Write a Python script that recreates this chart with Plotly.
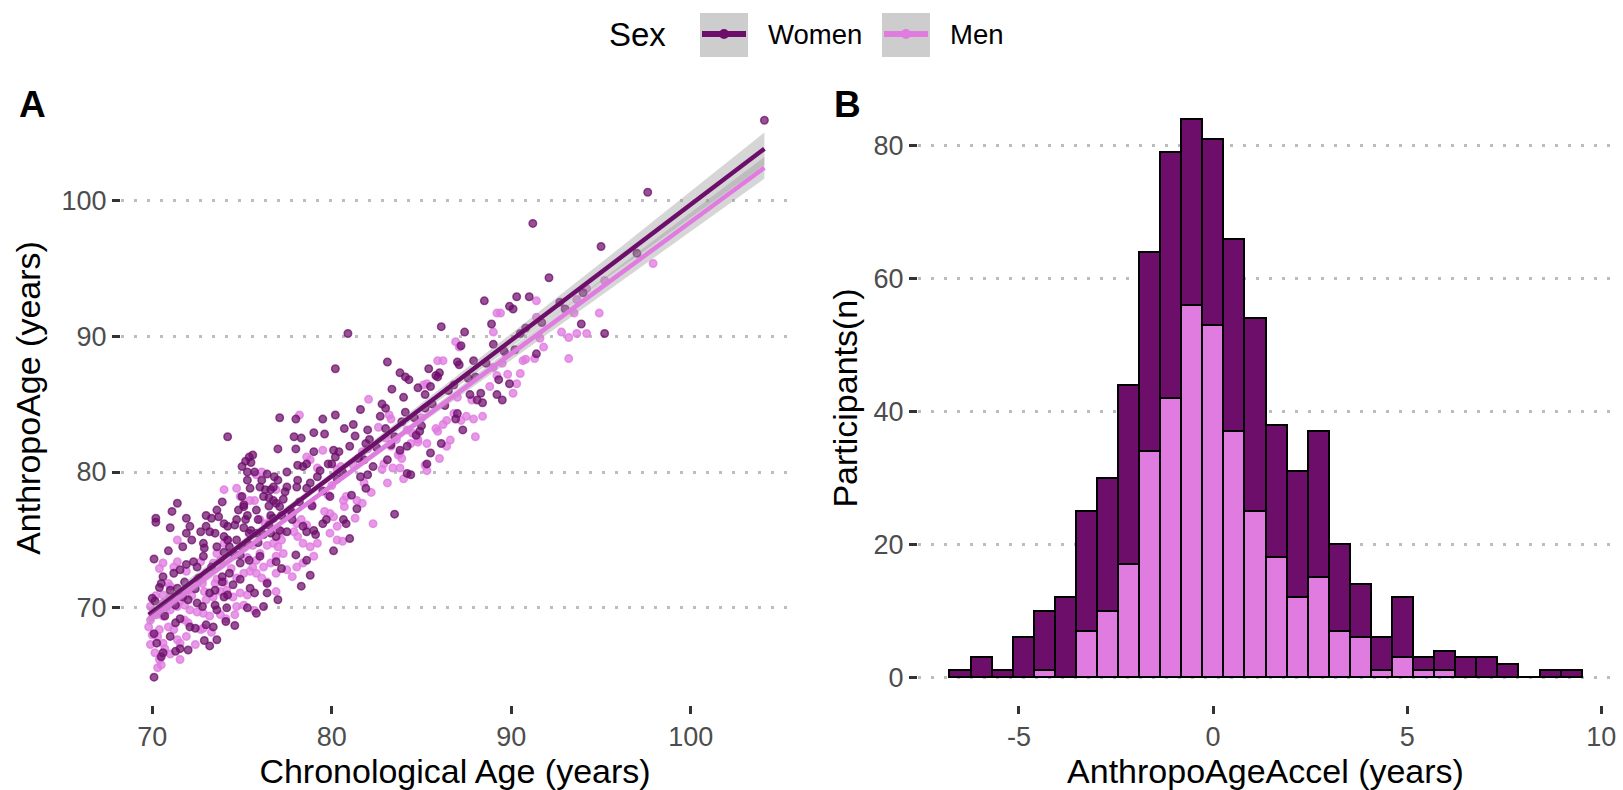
import plotly.graph_objects as go

W, H = 1623, 790
FONT = "Liberation Sans, Arial, Helvetica, sans-serif"
WOMEN_COL = "#6E0E6B"
MEN_COL = "#E07BE0"
WOMEN_PT = "rgba(110,14,107,0.72)"
MEN_PT = "rgba(224,123,224,0.78)"
TICK_COL = "#4D4D4D"

# ---------------- Panel A data (Chronological Age, AnthropoAge) ----------------
women_points = [
    (83.5, 76.9), (70.2, 76.6), (70.2, 76.3), (71.0, 75.9),
    (104.1, 105.9), (97.6, 100.6), (91.2, 98.3), (95.0, 96.6), (92.1, 94.3), (88.5, 92.6),
    (90.3, 92.9), (91.0, 92.9), (89.9, 92.2), (90.1, 92.0), (88.9, 90.9), (93.9, 90.9),
    (95.2, 90.2), (91.4, 88.7), (90.2, 89.0), (89.3, 86.8), (89.9, 86.5), (89.2, 85.7),
    (89.5, 85.3), (88.3, 85.8), (88.4, 85.1), (93.0, 92.0), (97.0, 96.1), (87.2, 89.3),
    (80.9, 90.2), (80.2, 87.6), (83.1, 88.1), (83.8, 87.3), (84.1, 87.0), (84.3, 86.8),
    (85.4, 87.6), (85.8, 87.1), (86.0, 87.3), (85.9, 87.0), (87.0, 88.1), (87.1, 87.9),
    (87.9, 88.2), (85.5, 86.3), (83.35, 86.1), (84.0, 85.5), (85.2, 85.7), (88.1, 85.3),
    (83.0, 84.7), (84.1, 84.4), (85.2, 84.7), (87.0, 84.3), (86.9, 83.9), (87.3, 83.1),
    (86.1, 82.1), (82.0, 83.1), (82.1, 82.4), (83.0, 83.2), (83.8, 81.6), (84.2, 81.9),
    (84.7, 82.7), (84.9, 83.0), (85.5, 81.4), (82.3, 80.4), (83.1, 80.9), (84.2, 79.9),
    (84.4, 79.8), (85.3, 80.6), (86.1, 90.7), (87.4, 90.3),
    (74.2, 82.6), (77.1, 84.0), (78.0, 83.9), (79.5, 83.9), (80.2, 84.2), (79.0, 82.9),
    (79.6, 82.8), (78.3, 82.5), (77.0, 81.7), (78.0, 81.7), (81.2, 83.5), (81.3, 82.65),
    (81.9, 82.1), (75.4, 81.1), (75.6, 81.25), (75.2, 80.8), (75.5, 80.7), (75.0, 80.4),
    (75.3, 80.0), (75.7, 80.0), (76.4, 79.85), (76.8, 79.65), (77.5, 80.0), (78.1, 80.5),
    (78.4, 80.4), (78.6, 80.6), (79.0, 81.5), (80.1, 81.6), (80.4, 81.5), (81.0, 81.9),
    (75.3, 79.4), (75.45, 78.8), (75.0, 78.2), (75.1, 77.45), (76.0, 78.9), (76.3, 78.7),
    (76.6, 78.7), (76.75, 78.9), (76.2, 78.2), (76.5, 78.1), (76.75, 77.9), (76.9, 77.7),
    (77.0, 79.4), (77.5, 78.9), (77.4, 78.55), (78.1, 79.4), (78.05, 78.9), (78.6, 78.8),
    (78.8, 79.2), (79.2, 79.65), (79.35, 80.1), (77.7, 77.2), (77.8, 76.95), (77.1, 77.45),
    (77.2, 76.8), (76.75, 76.6), (76.6, 76.8), (75.1, 77.6), (75.8, 77.2), (75.9, 76.5),
    (75.3, 76.8), (75.2, 76.5), (73.6, 77.2), (73.7, 76.7), (73.0, 76.8), (73.3, 76.6),
    (71.4, 77.7), (71.1, 77.1), (71.9, 76.6), (72.1, 76.0), (73.0, 76.0), (73.2, 75.6),
    (73.5, 75.5), (74.0, 76.2), (74.2, 76.0), (74.6, 76.1), (74.7, 76.5), (75.1, 75.9),
    (75.4, 75.5), (75.5, 75.7), (74.0, 75.25), (74.2, 75.0), (71.9, 75.5), (72.2, 75.0),
    (72.85, 74.75), (72.9, 74.4), (73.6, 74.5), (74.0, 74.1), (74.3, 74.5), (74.7, 75.0),
    (75.0, 74.5), (75.3, 74.75), (75.8, 75.5), (76.2, 75.4), (76.6, 75.5), (76.9, 75.25),
    (77.1, 75.7), (77.5, 75.6), (78.4, 76.0), (78.6, 75.6), (79.0, 75.7), (79.1, 75.4),
    (79.5, 76.2), (79.7, 76.5), (81.0, 75.1), (81.1, 78.3), (80.65, 76.5), (80.8, 76.2),
    (80.0, 80.6), (80.2, 81.1), (81.8, 80.9), (81.6, 79.65), (82.0, 79.8),
    (70.1, 64.9), (70.6, 66.7), (70.5, 66.4), (71.3, 66.8), (71.55, 67.0), (73.2, 67.2),
    (73.6, 67.65), (70.25, 67.4), (70.1, 68.1), (71.0, 67.9), (72.1, 68.6), (72.4, 68.5),
    (73.0, 68.75), (73.4, 68.6), (74.1, 69.0), (71.3, 68.9), (71.55, 69.2), (70.0, 70.7),
    (70.15, 70.5), (70.5, 71.8), (70.6, 72.3), (71.0, 71.3), (71.4, 71.45), (71.7, 70.8),
    (72.0, 70.6), (72.5, 70.35), (72.8, 70.1), (73.5, 70.2), (73.6, 69.85), (74.15, 70.0),
    (73.2, 71.1), (73.5, 71.3), (74.0, 70.8), (74.2, 70.95), (75.3, 70.0), (74.5, 71.7),
    (74.9, 72.1), (75.45, 71.45), (75.7, 71.1), (76.4, 71.8), (76.4, 71.1), (76.9, 73.4),
    (77.2, 72.9), (78.0, 73.9), (78.3, 71.6), (78.6, 73.5), (71.2, 72.55), (71.55, 72.8),
    (71.9, 73.2), (72.3, 73.4), (72.5, 73.0), (72.85, 73.8), (73.9, 72.3), (74.3, 72.55),
    (74.9, 73.3), (75.4, 73.5), (76.0, 73.8), (76.2, 70.1),
    # additional points along the dense band
    (76.5, 77.5), (77.3, 78.0), (78.2, 77.8), (79.5, 78.6), (80.3, 79.5), (81.5, 81.0),
    (82.5, 81.8), (83.5, 82.6), (84.6, 84.0), (85.6, 85.0), (86.5, 86.0), (87.6, 86.9),
    (88.6, 88.0), (89.6, 88.9), (90.5, 90.2), (91.7, 91.0), (92.7, 92.5), (94.0, 93.2),
    (82.8, 85.0), (81.6, 84.6), (80.7, 83.2), (83.9, 83.7), (86.3, 84.9), (88.0, 87.0),
    (89.0, 89.4), (90.8, 90.6), (71.8, 71.9), (72.6, 72.2), (73.3, 73.0), (74.6, 73.9),
    (75.9, 74.8), (76.5, 76.1), (77.8, 76.5), (78.9, 77.5), (79.9, 78.2), (81.9, 78.8),
    (70.7, 69.4), (71.3, 70.2), (72.4, 71.4), (73.9, 71.9), (74.9, 73.9), (70.4, 71.5),
    (70.9, 74.2), (71.7, 74.5), (72.7, 75.6), (73.9, 77.8), (74.8, 77.2), (76.1, 79.4),
    (77.9, 82.6), (79.8, 80.6), (82.7, 84.1), (84.8, 86.2), (86.8, 86.4), (80.6, 80.0),
    (83.3, 82.0), (85.0, 83.4), (87.7, 85.7), (70.1, 73.6), (72.0, 66.9), (72.9, 67.6),
    (74.6, 68.7), (75.8, 69.6), (77.0, 70.6), (78.8, 72.4), (80.1, 74.2), (81.4, 77.3),
]

men_points = [
    (97.9, 95.35), (93.65, 92.7), (94.2, 93.5), (95.2, 94.1), (89.2, 91.7), (89.4, 91.7),
    (91.4, 92.6), (93.5, 91.7), (94.9, 91.7), (89.0, 90.3), (93.2, 89.9), (93.65, 90.2),
    (94.2, 90.2), (93.2, 88.35), (91.6, 89.85), (91.3, 88.35), (90.65, 88.2), (90.5, 87.25),
    (90.1, 85.8), (88.4, 84.1), (89.2, 87.1), (89.7, 88.7), (89.0, 87.7), (91.4, 91.4),
    (90.3, 86.5),
    (82.05, 85.35), (85.9, 88.2), (86.2, 88.2), (85.1, 86.4), (85.3, 86.5), (86.9, 89.6),
    (87.1, 89.2), (86.4, 83.8), (86.2, 83.5), (85.9, 83.0), (83.2, 84.2), (83.3, 83.9),
    (82.6, 83.3), (84.8, 82.2), (85.3, 82.1), (84.4, 82.1), (87.2, 83.8), (87.5, 84.1),
    (87.9, 83.9), (83.7, 81.25), (83.9, 81.0), (82.9, 80.6), (83.4, 80.3), (83.8, 80.3),
    (85.2, 80.5), (85.3, 80.1), (84.2, 83.1), (84.5, 82.85), (83.3, 81.9), (83.6, 82.4),
    (86.6, 82.35), (86.4, 81.9), (78.2, 84.2), (81.7, 81.5), (82.0, 81.7),
    (83.1, 79.2), (81.3, 76.6), (82.3, 76.2), (70.3, 65.6),
    (74.0, 78.7), (76.9, 78.7), (78.6, 81.1), (78.8, 80.9), (79.5, 81.6), (79.2, 80.3),
    (80.3, 80.2), (80.5, 80.4), (80.65, 77.9), (80.7, 77.45), (81.4, 77.9), (81.7, 77.7),
    (79.9, 76.95), (80.1, 76.7), (80.3, 76.0), (78.05, 76.2), (78.3, 76.5), (77.9, 75.6),
    (78.1, 75.25), (75.45, 77.9), (75.7, 77.9), (75.8, 79.8), (76.1, 80.0), (74.7, 78.8),
    (74.9, 78.2), (71.4, 75.0), (74.0, 74.75), (74.2, 75.0), (76.75, 74.75), (77.0, 74.5),
    (77.2, 75.0), (78.4, 74.75), (78.8, 74.5), (79.2, 74.75), (79.9, 75.5), (80.3, 75.0),
    (76.0, 76.5), (76.3, 76.2), (76.6, 76.6),
    (70.06, 69.7), (69.9, 69.1), (69.8, 68.6), (70.25, 69.5), (70.6, 69.4), (70.4, 68.4),
    (70.3, 67.9), (70.6, 67.4), (70.15, 66.7), (70.5, 65.8), (71.4, 67.65), (71.55, 67.4),
    (71.55, 66.2), (70.9, 68.6), (71.2, 68.4), (71.8, 69.1), (72.0, 68.9), (72.7, 68.4),
    (72.85, 68.5), (71.0, 69.85), (71.4, 70.1), (70.6, 70.95), (71.0, 70.8), (71.55, 70.5),
    (71.8, 70.2), (72.1, 69.85), (72.5, 69.7), (72.85, 69.6), (73.2, 69.4), (73.8, 69.5),
    (74.1, 69.2), (73.0, 70.6), (73.4, 70.8), (73.8, 71.2), (74.15, 71.3), (74.5, 70.8),
    (74.9, 71.1), (75.3, 70.95), (74.7, 72.2), (75.1, 72.55), (75.45, 72.7), (75.8, 72.55),
    (76.2, 73.0), (76.6, 73.3), (76.9, 73.8), (77.3, 74.0), (71.4, 73.4), (71.2, 73.0),
    (70.6, 70.35), (70.8, 70.1), (75.6, 73.0), (75.8, 73.5), (76.1, 72.2), (76.4, 71.9),
    (76.9, 72.55), (77.5, 72.8), (78.05, 73.0), (78.4, 73.3), (74.7, 70.1), (75.1, 70.2),
    (70.6, 73.3), (70.4, 72.9), (73.4, 73.3), (73.8, 73.5), (73.6, 72.1), (74.0, 71.9),
    (72.5, 72.1), (72.8, 71.8), (73.0, 72.55), (69.9, 70.1),
    # additional points along the dense band
    (76.0, 74.0), (77.2, 75.6), (78.6, 76.1), (79.6, 77.1), (80.8, 78.2), (81.8, 79.2),
    (82.8, 80.2), (83.8, 81.4), (84.8, 82.4), (85.8, 83.2), (86.8, 84.3), (87.8, 85.3),
    (88.8, 86.3), (89.8, 87.2), (90.8, 88.3), (91.8, 89.2), (92.8, 90.3), (82.2, 78.5),
    (84.0, 79.5), (86.0, 81.0), (88.0, 82.6), (80.0, 79.0), (81.2, 80.5), (83.0, 82.5),
    (85.0, 84.0), (87.0, 85.5), (89.5, 88.0), (71.0, 71.6), (72.2, 70.9), (72.9, 71.2),
    (73.5, 71.8), (74.4, 72.9), (75.3, 73.7), (76.4, 74.6), (77.6, 76.8), (78.9, 77.6),
    (79.8, 78.3), (70.2, 70.9), (70.9, 71.8), (71.9, 72.7), (72.7, 73.4), (73.6, 74.0),
    (74.4, 74.1), (75.6, 74.6), (70.0, 68.0), (70.7, 67.0), (71.0, 66.6), (71.9, 67.9),
    (72.4, 67.3), (73.3, 68.2), (74.6, 69.5), (75.7, 69.8), (76.9, 71.2), (77.8, 72.3),
    (79.0, 73.8), (80.6, 74.9), (69.9, 67.3), (70.4, 66.2),
]

# linear fits (geom_smooth, method = "lm") with 95% CI
fit_age = [69.8, 75, 80, 85, 90, 95, 100, 104.1]
women_fit = [69.5, 74.7, 79.7, 84.7, 89.7, 94.7, 99.7, 103.8]
women_hi = [69.95, 75.0, 79.95, 85.05, 90.2, 95.4, 100.65, 105.0]
women_lo = [69.05, 74.4, 79.45, 84.35, 89.2, 94.0, 98.75, 102.6]
men_fit = [69.1, 74.15, 79.0, 83.85, 88.7, 93.55, 98.4, 102.4]
men_hi = [69.45, 74.4, 79.2, 84.15, 89.15, 94.15, 99.15, 103.2]
men_lo = [68.75, 73.9, 78.8, 83.6, 88.25, 93.0, 97.7, 101.6]

# ---------------- Panel B data (histogram of AnthropoAgeAccel, 30 bins) ----------------
bin_centers = [-6.518, -5.975, -5.433, -4.890, -4.347, -3.805, -3.262, -2.719, -2.176, -1.634,
               -1.091, -0.548, -0.006, 0.537, 1.080, 1.623, 2.165, 2.708, 3.251, 3.793,
               4.336, 4.879, 5.422, 5.964, 6.507, 7.050, 7.592, 8.135, 8.678, 9.221]
men_counts = [0, 0, 0, 0, 1, 0, 7, 10, 17, 34, 42, 56, 53, 37, 25, 18, 12, 15, 7, 6,
              1, 3, 1, 1, 0, 0, 0, 0, 0, 0]
women_counts = [1, 3, 1, 6, 9, 12, 18, 20, 27, 30, 37, 28, 28, 29, 29, 20, 19, 22, 13, 8,
                5, 9, 2, 3, 3, 3, 2, 0, 1, 1]

ticks_a = [70, 80, 90, 100]
ticks_b_x = [-5, 0, 5, 10]
ticks_b_x_text = ["-5", "0", "5", "10"]
ticks_b_y = [0, 20, 40, 60, 80]


def px_x(v):
    return v / W


def px_y(v):
    return 1 - v / H


fig = go.Figure()

# points: men first, women on top
fig.add_trace(go.Scatter(
    x=[p[0] for p in men_points], y=[p[1] for p in men_points], mode="markers",
    marker=dict(size=7.5, color=MEN_PT, line=dict(color=MEN_PT, width=1.5)),
    name="Men", showlegend=False, xaxis="x", yaxis="y"))
fig.add_trace(go.Scatter(
    x=[p[0] for p in women_points], y=[p[1] for p in women_points], mode="markers",
    marker=dict(size=7.5, color=WOMEN_PT, line=dict(color=WOMEN_PT, width=1.5)),
    name="Women", showlegend=False, xaxis="x", yaxis="y"))

# ribbons and fit lines
for hi, lo, mid, col in [(women_hi, women_lo, women_fit, WOMEN_COL),
                         (men_hi, men_lo, men_fit, MEN_COL)]:
    fig.add_trace(go.Scatter(
        x=fit_age + fit_age[::-1], y=hi + lo[::-1], fill="toself",
        fillcolor="rgba(153,153,153,0.4)", line=dict(width=0), mode="lines",
        hoverinfo="skip", showlegend=False, xaxis="x", yaxis="y"))
    fig.add_trace(go.Scatter(
        x=fit_age, y=mid, mode="lines", line=dict(color=col, width=4.5),
        showlegend=False, xaxis="x", yaxis="y"))

# stacked histogram
fig.add_trace(go.Bar(
    x=bin_centers, y=men_counts, name="Men", marker=dict(color=MEN_COL, line=dict(color="black", width=2)),
    showlegend=False, xaxis="x2", yaxis="y2"))
fig.add_trace(go.Bar(
    x=bin_centers, y=women_counts, name="Women", marker=dict(color=WOMEN_COL, line=dict(color="black", width=2)),
    showlegend=False, xaxis="x2", yaxis="y2"))

ydom = [px_y(705), px_y(91)]
axis_common = dict(
    showline=False, zeroline=False, ticks="outside", ticklen=8, tickwidth=2.5,
    tickcolor="#333333", tickfont=dict(size=27, color=TICK_COL, family=FONT),
    automargin=False,
)
grid_y = dict(showgrid=True, gridcolor="#BDBDBD", gridwidth=2.5, griddash="3px,10px")
TITLE_SIZE = 34

fig.update_layout(
    width=W, height=H, margin=dict(l=0, r=0, t=0, b=0), autosize=False,
    template="none", paper_bgcolor="white", plot_bgcolor="white",
    font=dict(family=FONT, color="black"),
    barmode="stack", bargap=0, showlegend=False,
    xaxis=dict(domain=[px_x(121), px_x(789)], range=[68.26, 105.47], anchor="y",
               tickmode="array", tickvals=ticks_a, showgrid=False,
               title=dict(text="Chronological Age (years)", font=dict(size=TITLE_SIZE, color="black"), standoff=8),
               **axis_common),
    yaxis=dict(domain=ydom, range=[62.85, 108.05], anchor="x",
               tickmode="array", tickvals=ticks_a,
               title=dict(text="AnthropoAge (years)", font=dict(size=TITLE_SIZE, color="black"), standoff=10),
               **grid_y, **axis_common),
    xaxis2=dict(domain=[px_x(918), px_x(1613)], range=[-7.6, 10.3], anchor="y2",
                tickmode="array", tickvals=ticks_b_x, ticktext=ticks_b_x_text, showgrid=False,
                title=dict(text="AnthropoAgeAccel (years)", font=dict(size=TITLE_SIZE, color="black"), standoff=8),
                **axis_common),
    yaxis2=dict(domain=ydom, range=[-4.2, 88.2], anchor="x2",
                tickmode="array", tickvals=ticks_b_y,
                title=dict(text="Participants(n)", font=dict(size=TITLE_SIZE, color="black"), standoff=5),
                **grid_y, **axis_common),
)

# ---------------- manual legend (ggplot style keys with grey background) ----------------
shapes = []
annotations = []
LEG_Y = 34
legend_items = [("Women", WOMEN_COL, 700, 766), ("Men", MEN_COL, 882, 948)]
for label, col, kx, tx in legend_items:
    shapes.append(dict(type="rect", xref="paper", yref="paper",
                       x0=px_x(kx), x1=px_x(kx + 48), y0=px_y(LEG_Y + 23), y1=px_y(LEG_Y - 21),
                       fillcolor="#CDCDCD", line=dict(width=0), layer="above"))
    shapes.append(dict(type="line", xref="paper", yref="paper",
                       x0=px_x(kx + 2), x1=px_x(kx + 46), y0=px_y(LEG_Y), y1=px_y(LEG_Y),
                       line=dict(color=col, width=6), layer="above"))
    shapes.append(dict(type="circle", xref="paper", yref="paper",
                       x0=px_x(kx + 19), x1=px_x(kx + 29), y0=px_y(LEG_Y + 5), y1=px_y(LEG_Y - 5),
                       fillcolor=col, line=dict(width=0), layer="above"))
    annotations.append(dict(text=label, xref="paper", yref="paper", x=px_x(tx), y=px_y(LEG_Y),
                            xanchor="left", yanchor="middle", showarrow=False,
                            font=dict(size=27.5, color="black", family=FONT)))
annotations.append(dict(text="Sex", xref="paper", yref="paper", x=px_x(607), y=px_y(LEG_Y),
                        xanchor="left", yanchor="middle", showarrow=False,
                        font=dict(size=33, color="black", family=FONT)))
annotations.append(dict(text="<b>A</b>", xref="paper", yref="paper", x=px_x(17), y=px_y(104),
                        xanchor="left", yanchor="middle", showarrow=False,
                        font=dict(size=37, color="black", family=FONT)))
annotations.append(dict(text="<b>B</b>", xref="paper", yref="paper", x=px_x(832), y=px_y(104),
                        xanchor="left", yanchor="middle", showarrow=False,
                        font=dict(size=37, color="black", family=FONT)))
fig.update_layout(shapes=shapes, annotations=annotations)

fig.write_html("out.html")
